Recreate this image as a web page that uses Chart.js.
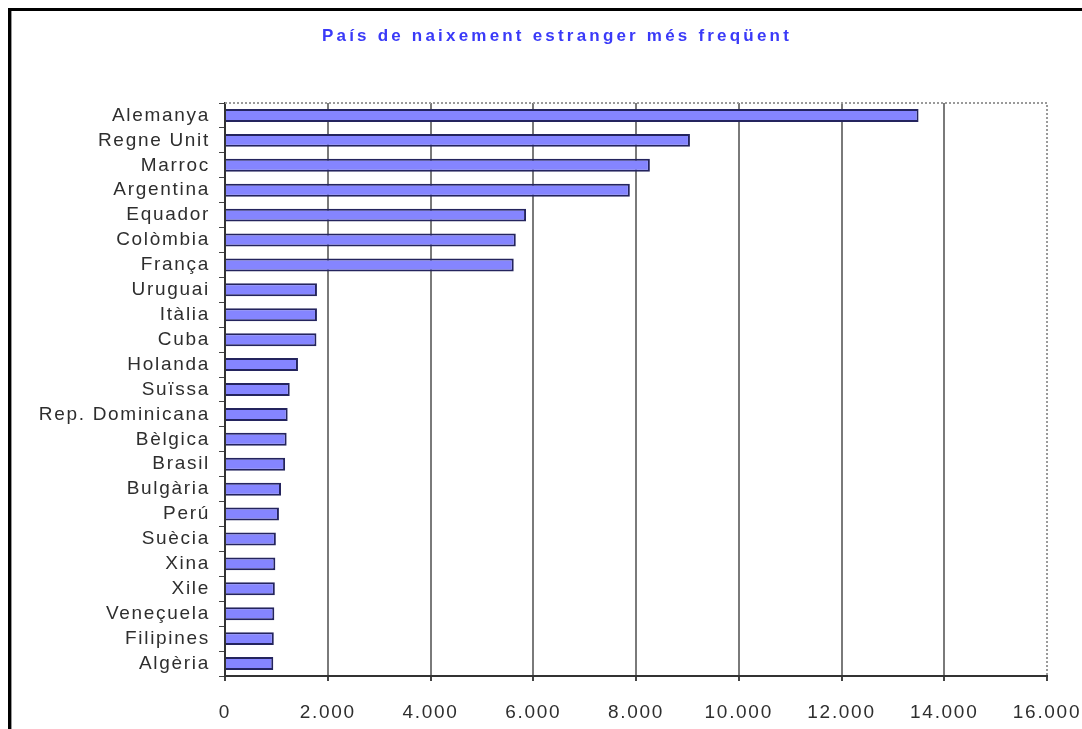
<!DOCTYPE html>
<html>
<head>
<meta charset="utf-8">
<script src="https://cdn.jsdelivr.net/npm/chart.js@4"></script>
<style>
    html, body { margin: 0; padding: 0; background: #ffffff; overflow: hidden; }
    #frame { position: absolute; left: 8px; top: 8px; width: 1200px; height: 800px;
             border-top: 3px solid #000; border-left: 3px solid #000; box-shadow: inset 1px 0 0 #999; }
    #wrap { position: absolute; left: 0; top: 0; width: 1082px; height: 729px; }
</style>
</head>
<body>
<div id="frame"></div>
<div id="wrap"><canvas id="paisosChart"></canvas></div>
<script>
const titol = 'País de naixement estranger més freqüent';

const paisos = ['Alemanya', 'Regne Unit', 'Marroc', 'Argentina', 'Equador', 'Colòmbia', 'França',
    'Uruguai', 'Itàlia', 'Cuba', 'Holanda', 'Suïssa', 'Rep. Dominicana', 'Bèlgica', 'Brasil',
    'Bulgària', 'Perú', 'Suècia', 'Xina', 'Xile', 'Veneçuela', 'Filipines', 'Algèria'];

const persones = [13500, 9050, 8270, 7880, 5860, 5660, 5620,
    1790, 1790, 1780, 1420, 1260, 1220, 1200, 1170,
    1090, 1050, 990, 980, 970, 960, 950, 940];

const eixMax = 16000;
const eixPas = 2000;

function formatMiles(v) {
    return String(v).replace(/\B(?=(\d{3})+(?!\d))/g, '.');
}

// espaiat de lletres com a l'original
const espaiat = {
    id: 'espaiat',
    beforeUpdate(chart) { chart.ctx.letterSpacing = '1.7px'; },
    beforeDraw(chart) { chart.ctx.letterSpacing = '1.7px'; }
};

// vora puntejada de l'area del grafic i el titol
const voraTitol = {
    id: 'voraTitol',
    afterDraw(chart) {
        const ctx = chart.ctx;
        const a = chart.chartArea;
        ctx.save();
        ctx.strokeStyle = '#9a9a9a';
        ctx.lineWidth = 2;
        ctx.setLineDash([2, 2]);
        ctx.beginPath();
        ctx.moveTo(a.left, a.top);
        ctx.lineTo(a.right, a.top);
        ctx.lineTo(a.right, a.bottom);
        ctx.stroke();
        ctx.restore();

        ctx.save();
        ctx.letterSpacing = '3.2px';
        ctx.font = 'bold 17px "Liberation Sans", Arial, sans-serif';
        ctx.fillStyle = '#3a3af8';
        ctx.textAlign = 'center';
        ctx.textBaseline = 'middle';
        ctx.fillText(titol, 557, 36);
        ctx.restore();
    }
};

const ctx = document.getElementById('paisosChart').getContext('2d');
const chart = new Chart(ctx, {
    type: 'bar',
    data: {
        labels: paisos,
        datasets: [{
            label: titol,
            data: persones,
            backgroundColor: '#8585ff',
            borderColor: '#24245e',
            borderWidth: 2,
            barPercentage: 0.52,
            categoryPercentage: 1
        }]
    },
    options: {
        indexAxis: 'y',
        responsive: true,
        maintainAspectRatio: false,
        animation: false,
        layout: { padding: { top: 103, right: 35, left: 0, bottom: 0 } },
        plugins: {
            legend: { display: false },
            title: { display: false },
            tooltip: { enabled: false }
        },
        scales: {
            x: {
                min: 0,
                max: eixMax,
                ticks: {
                    stepSize: eixPas,
                    padding: 20,
                    color: '#2e2e2e',
                    font: { family: '"Liberation Sans", Arial, sans-serif', size: 19 },
                    callback: (v) => formatMiles(v),
                    maxRotation: 0
                },
                grid: {
                    color: (c) => (c.tick && (c.tick.value === 0 || c.tick.value === eixMax)) ? 'rgba(0,0,0,0)' : '#7a7a7a',
                    lineWidth: 2,
                    tickLength: 5,
                    tickColor: '#444'
                },
                border: { color: '#333', width: 2 },
                afterFit: (s) => { s.height = 53; s.paddingLeft = 0; s.paddingRight = 0; }
            },
            y: {
                ticks: {
                    padding: 9,
                    color: '#2e2e2e',
                    font: { family: '"Liberation Sans", Arial, sans-serif', size: 19 },
                    autoSkip: false
                },
                grid: {
                    drawOnChartArea: false,
                    tickLength: 6,
                    tickColor: '#444',
                    lineWidth: 1
                },
                border: { color: '#333', width: 2 },
                afterFit: (s) => { s.width = 225; s.paddingTop = 0; s.paddingBottom = 0; }
            }
        }
    },
    plugins: [espaiat, voraTitol]
});
</script>
</body>
</html>
